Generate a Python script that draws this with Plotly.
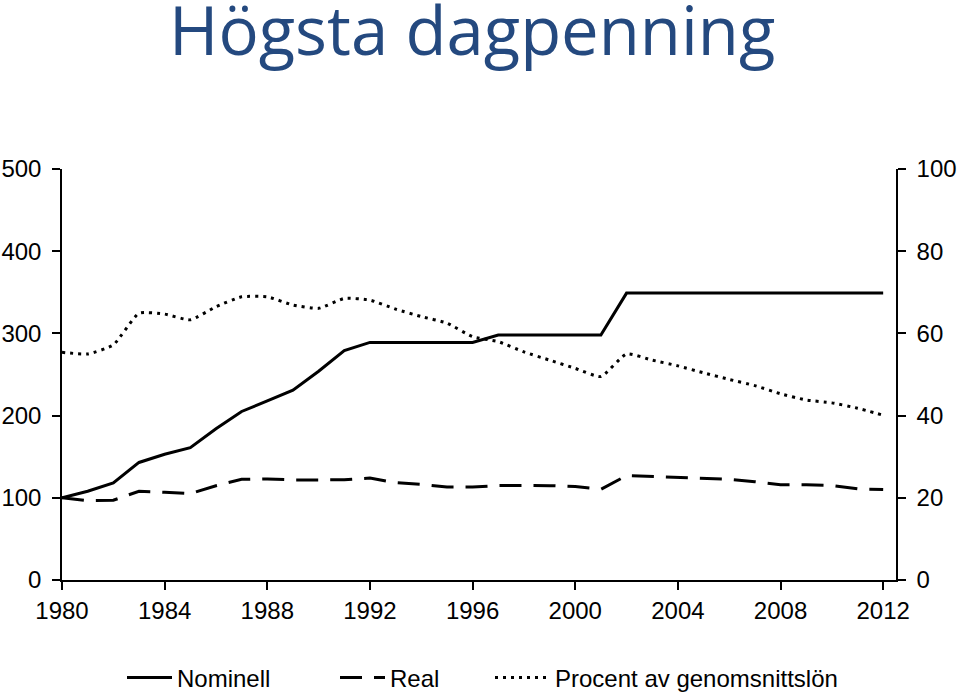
import plotly.graph_objects as go

years = list(range(1980, 2013))
nominell = [100, 108, 118, 143, 153, 161, 184, 205, 218, 231, 254, 279, 289,
            289, 289, 289, 289, 298, 298, 298, 298, 298, 349, 349, 349, 349,
            349, 349, 349, 349, 349, 349, 349]
real = [100, 96.5, 97, 108, 106.7, 105, 114.7, 122.5, 123, 121.7, 121.7, 122, 124,
        118.4, 116.4, 113, 113, 114.8, 115, 114.8, 113.6, 110.3, 127, 125.7, 125,
        124, 122.5, 119.6, 116, 116, 115, 111, 110]
procent = [55.4, 55, 57.2, 64.9, 64.7, 63.3, 66.5, 68.9, 68.9, 66.9, 66.1, 68.5, 68.1,
           65.9, 64.1, 62.5, 59.2, 58, 55.5, 53.5, 51.5, 49.5, 55, 53.5, 52.1,
           50.4, 48.8, 47.3, 45.3, 43.8, 43.1, 41.8, 40.1]
left_ticks = [0, 100, 200, 300, 400, 500]
right_ticks = [0, 20, 40, 60, 80, 100]
x_ticks = list(range(1980, 2013, 4))

font = "Liberation Sans, Arial, sans-serif"
FS = 24

W, H = 959, 692
L, R, T, B = 62, 63, 169, 112
plot_w = W - L - R
plot_h = H - T - B


def px_x(p):
    return (p - L) / plot_w


def px_y(p):
    return (T + plot_h - p) / plot_h


fig = go.Figure()
fig.add_trace(go.Scatter(x=years, y=nominell, name="Nominell", mode="lines", legend="legend",
                         line=dict(color="black", width=3)))
fig.add_trace(go.Scatter(x=years, y=real, name="Real", mode="lines", legend="legend2",
                         line=dict(color="black", width=3, dash="22px,12px")))
fig.add_trace(go.Scatter(x=years, y=procent, name="Procent av genomsnittslön", mode="lines",
                         yaxis="y2", legend="legend3",
                         line=dict(color="black", width=3, dash="3px,5px", shape="spline", smoothing=0.5)))

axis_common = dict(showgrid=False, zeroline=False, showline=True, linecolor="black",
                   linewidth=1.5, ticks="outside", ticklen=8, tickcolor="black", tickwidth=1.5,
                   tickfont=dict(family=font, size=FS, color="black"), automargin=False)

leg_common = dict(orientation="h", xanchor="left", yanchor="middle", y=px_y(678),
                  font=dict(family=font, size=FS, color="black"), bgcolor="rgba(0,0,0,0)")

fig.update_layout(
    width=W, height=H,
    margin=dict(l=L, r=R, t=T, b=B, autoexpand=False),
    paper_bgcolor="white", plot_bgcolor="white",
    showlegend=True,
    font=dict(family=font, size=FS, color="black"),
    xaxis=dict(range=[1980, 2012.5], tickvals=x_ticks, **axis_common),
    yaxis=dict(range=[0, 500], tickvals=left_ticks, ticklabelstandoff=6, **axis_common),
    yaxis2=dict(range=[0, 100], tickvals=right_ticks, overlaying="y", side="right",
                ticklabelstandoff=6, **axis_common),
    legend=dict(x=px_x(122), itemwidth=45, **leg_common),
    legend2=dict(x=px_x(335), itemwidth=45, **leg_common),
    legend3=dict(x=px_x(490), itemwidth=55, **leg_common),
)
fig.add_annotation(text="Högsta dagpenning", x=px_x(472), y=px_y(29),
                   xref="paper", yref="paper", xanchor="center", yanchor="middle",
                   showarrow=False, font=dict(family="Open Sans", size=67, color="#24497F"))

fig.write_html("out.html", config={"displayModeBar": False},
               post_script="document.body.style.margin='0';")
